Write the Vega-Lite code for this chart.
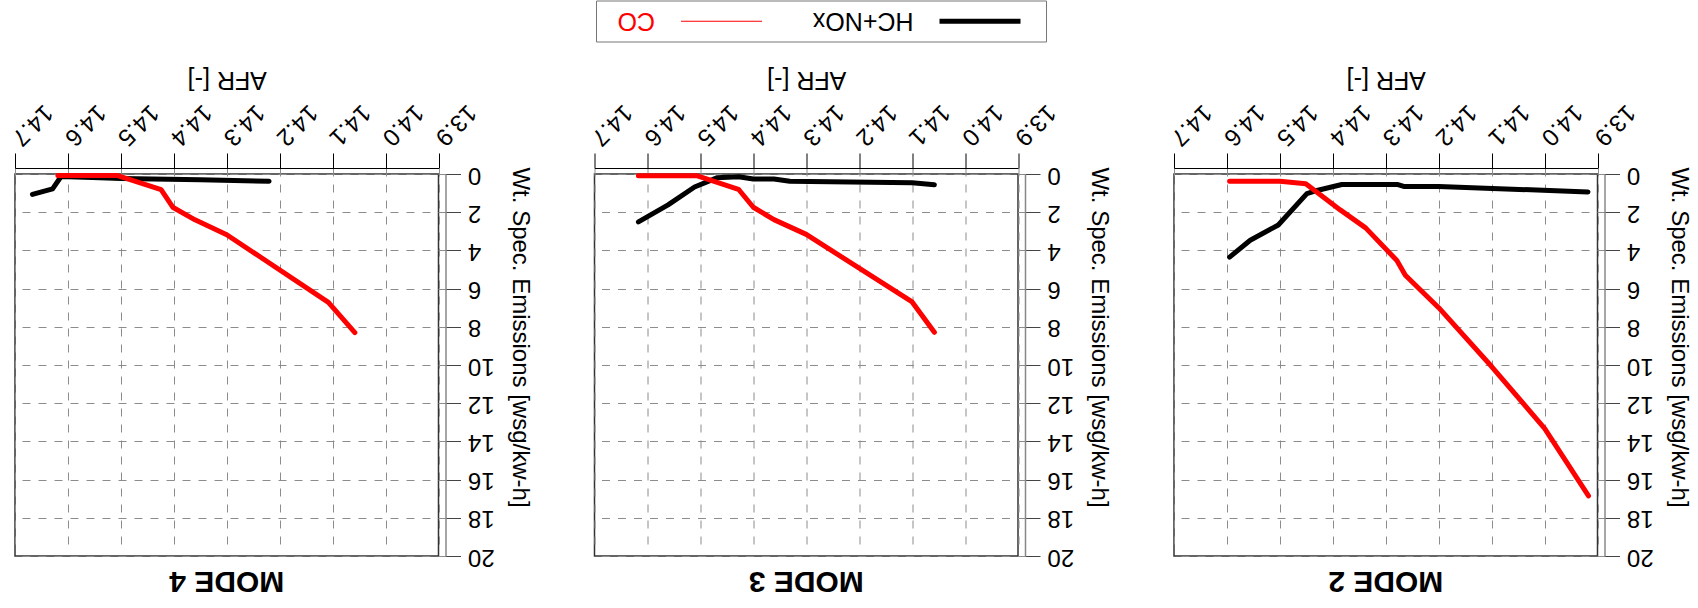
{
  "$schema": "https://vega.github.io/schema/vega-lite/v6.json",
  "background": "white",
  "padding": {"left": 5, "top": 0, "right": 0, "bottom": 0},
  "config": {
    "font": "Liberation Sans",
    "view": {"stroke": "#333333", "strokeWidth": 1.5},
    "axis": {"labelFont": "Liberation Sans", "titleFont": "Liberation Sans", "labelColor": "#000000", "titleColor": "#000000"},
    "axisX": {"orient": "top", "values": [13.9, 14.0, 14.1, 14.2, 14.3, 14.4, 14.5, 14.6, 14.7], "format": ".1f", "labelAngle": 135, "labelAlign": "right", "labelBaseline": "middle", "labelFontSize": 24, "labelPadding": 12, "labelFlush": false, "labelOverlap": false, "labelBound": false, "tickSize": 15, "tickColor": "#000000", "domainColor": "#000000", "offset": 6, "grid": true, "gridDash": [8, 8], "gridColor": "#8c8c8c", "titleAngle": 180, "titleBaseline": "top", "titleFontSize": 25, "titleFontWeight": "normal", "titlePadding": 8},
    "axisY": {"orient": "right", "values": [0, 2, 4, 6, 8, 10, 12, 14, 16, 18, 20], "labelAngle": 180, "labelAlign": "right", "labelBaseline": "middle", "labelFontSize": 24, "labelPadding": 7, "labelOverlap": false, "labelFlush": false, "tickSize": 15, "tickColor": "#444444", "domainColor": "#888888", "domainWidth": 1.5, "offset": 7, "grid": true, "gridDash": [8, 8], "gridColor": "#8c8c8c", "titleAngle": 90, "titleFontSize": 24, "titleFontWeight": "normal", "titlePadding": 13, "titleY": 163}
  },
  "data": {"values": [
    {"mode": "MODE 4", "series": "HC+NOx", "afr": 14.667, "val": 1.07},
    {"mode": "MODE 4", "series": "HC+NOx", "afr": 14.629, "val": 0.78},
    {"mode": "MODE 4", "series": "HC+NOx", "afr": 14.613, "val": 0.13},
    {"mode": "MODE 4", "series": "HC+NOx", "afr": 14.54, "val": 0.2},
    {"mode": "MODE 4", "series": "HC+NOx", "afr": 14.5, "val": 0.24},
    {"mode": "MODE 4", "series": "HC+NOx", "afr": 14.35, "val": 0.3},
    {"mode": "MODE 4", "series": "HC+NOx", "afr": 14.22, "val": 0.38},
    {"mode": "MODE 4", "series": "CO", "afr": 14.619, "val": 0.08},
    {"mode": "MODE 4", "series": "CO", "afr": 14.506, "val": 0.08},
    {"mode": "MODE 4", "series": "CO", "afr": 14.424, "val": 0.82},
    {"mode": "MODE 4", "series": "CO", "afr": 14.402, "val": 1.74},
    {"mode": "MODE 4", "series": "CO", "afr": 14.36, "val": 2.4},
    {"mode": "MODE 4", "series": "CO", "afr": 14.3, "val": 3.18},
    {"mode": "MODE 4", "series": "CO", "afr": 14.108, "val": 6.72},
    {"mode": "MODE 4", "series": "CO", "afr": 14.058, "val": 8.3},
    {"mode": "MODE 3", "series": "HC+NOx", "afr": 14.617, "val": 2.51},
    {"mode": "MODE 3", "series": "HC+NOx", "afr": 14.561, "val": 1.62},
    {"mode": "MODE 3", "series": "HC+NOx", "afr": 14.511, "val": 0.68},
    {"mode": "MODE 3", "series": "HC+NOx", "afr": 14.469, "val": 0.2},
    {"mode": "MODE 3", "series": "HC+NOx", "afr": 14.428, "val": 0.14},
    {"mode": "MODE 3", "series": "HC+NOx", "afr": 14.4, "val": 0.26},
    {"mode": "MODE 3", "series": "HC+NOx", "afr": 14.361, "val": 0.26},
    {"mode": "MODE 3", "series": "HC+NOx", "afr": 14.331, "val": 0.38},
    {"mode": "MODE 3", "series": "HC+NOx", "afr": 14.1, "val": 0.46},
    {"mode": "MODE 3", "series": "HC+NOx", "afr": 14.058, "val": 0.56},
    {"mode": "MODE 3", "series": "CO", "afr": 14.617, "val": 0.09},
    {"mode": "MODE 3", "series": "CO", "afr": 14.507, "val": 0.09},
    {"mode": "MODE 3", "series": "CO", "afr": 14.428, "val": 0.8},
    {"mode": "MODE 3", "series": "CO", "afr": 14.4, "val": 1.74},
    {"mode": "MODE 3", "series": "CO", "afr": 14.361, "val": 2.39},
    {"mode": "MODE 3", "series": "CO", "afr": 14.3, "val": 3.16},
    {"mode": "MODE 3", "series": "CO", "afr": 14.1, "val": 6.7},
    {"mode": "MODE 3", "series": "CO", "afr": 14.058, "val": 8.29},
    {"mode": "MODE 2", "series": "HC+NOx", "afr": 14.595, "val": 4.35},
    {"mode": "MODE 2", "series": "HC+NOx", "afr": 14.556, "val": 3.47},
    {"mode": "MODE 2", "series": "HC+NOx", "afr": 14.503, "val": 2.67},
    {"mode": "MODE 2", "series": "HC+NOx", "afr": 14.449, "val": 1.03},
    {"mode": "MODE 2", "series": "HC+NOx", "afr": 14.428, "val": 0.85},
    {"mode": "MODE 2", "series": "HC+NOx", "afr": 14.383, "val": 0.55},
    {"mode": "MODE 2", "series": "HC+NOx", "afr": 14.277, "val": 0.55},
    {"mode": "MODE 2", "series": "HC+NOx", "afr": 14.266, "val": 0.65},
    {"mode": "MODE 2", "series": "HC+NOx", "afr": 14.2, "val": 0.65},
    {"mode": "MODE 2", "series": "HC+NOx", "afr": 13.918, "val": 0.94},
    {"mode": "MODE 2", "series": "CO", "afr": 14.595, "val": 0.38},
    {"mode": "MODE 2", "series": "CO", "afr": 14.5, "val": 0.38},
    {"mode": "MODE 2", "series": "CO", "afr": 14.451, "val": 0.51},
    {"mode": "MODE 2", "series": "CO", "afr": 14.386, "val": 1.88},
    {"mode": "MODE 2", "series": "CO", "afr": 14.338, "val": 2.82},
    {"mode": "MODE 2", "series": "CO", "afr": 14.279, "val": 4.53},
    {"mode": "MODE 2", "series": "CO", "afr": 14.263, "val": 5.3},
    {"mode": "MODE 2", "series": "CO", "afr": 14.2, "val": 7.0},
    {"mode": "MODE 2", "series": "CO", "afr": 14.1, "val": 10.08},
    {"mode": "MODE 2", "series": "CO", "afr": 14.0, "val": 13.32},
    {"mode": "MODE 2", "series": "CO", "afr": 13.917, "val": 16.85}
  ]},
  "spacing": 155.5,
  "bounds": "flush",
  "hconcat": [
    {
      "width": 423.5, "height": 382,
      "title": {"text": "MODE 4", "orient": "bottom", "angle": 180, "fontSize": 30, "fontWeight": "bold", "font": "Liberation Sans", "baseline": "alphabetic", "offset": 4, "anchor": "middle", "color": "#000000"},
      "transform": [{"filter": "datum.mode === 'MODE 4'"}],
      "mark": {"type": "line", "strokeWidth": 5, "strokeCap": "round", "strokeJoin": "round"},
      "encoding": {
        "x": {"field": "afr", "type": "quantitative", "scale": {"domain": [13.9, 14.7], "reverse": true, "nice": false, "zero": false}, "axis": {"title": "AFR [-]"}},
        "y": {"field": "val", "type": "quantitative", "scale": {"domain": [0, 20], "reverse": true, "nice": false}, "axis": {"title": "Wt. Spec. Emissions [wsg/kw-h]"}},
        "color": {"field": "series", "type": "nominal", "scale": {"domain": ["CO", "HC+NOx"], "range": ["#ff0000", "#000000"]},
          "legend": {"orient": "none", "legendX": 581, "legendY": -173.5, "direction": "horizontal", "title": " ", "titleOrient": "right", "titlePadding": 7, "titleFontSize": 25, "titleFont": "Liberation Sans", "symbolType": "stroke", "symbolSize": 6561, "symbolStrokeWidth": 5, "symbolOffset": 105, "labelFont": "Liberation Sans", "labelFontSize": 25, "labelAlign": "left", "labelBaseline": "middle", "labelOffset": -79, "columnPadding": 48.5, "padding": 8, "strokeColor": "#777777", "fillColor": "#ffffff",
            "encode": {"labels": {"update": {"angle": {"value": 180}, "fill": {"signal": "datum.value === 'CO' ? '#ff0000' : '#000000'"}}}, "symbols": {"update": {"strokeWidth": {"signal": "datum.value === 'CO' ? 1 : 5"}}}}}}
      }
    },
    {
      "width": 423.5, "height": 382,
      "title": {"text": "MODE 3", "orient": "bottom", "angle": 180, "fontSize": 30, "fontWeight": "bold", "font": "Liberation Sans", "baseline": "alphabetic", "offset": 4, "anchor": "middle", "color": "#000000"},
      "transform": [{"filter": "datum.mode === 'MODE 3'"}],
      "mark": {"type": "line", "strokeWidth": 5, "strokeCap": "round", "strokeJoin": "round"},
      "encoding": {
        "x": {"field": "afr", "type": "quantitative", "scale": {"domain": [13.9, 14.7], "reverse": true, "nice": false, "zero": false}, "axis": {"title": "AFR [-]"}},
        "y": {"field": "val", "type": "quantitative", "scale": {"domain": [0, 20], "reverse": true, "nice": false}, "axis": {"title": "Wt. Spec. Emissions [wsg/kw-h]"}},
        "color": {"field": "series", "type": "nominal", "scale": {"domain": ["CO", "HC+NOx"], "range": ["#ff0000", "#000000"]}, "legend": null}
      }
    },
    {
      "width": 423.5, "height": 382,
      "title": {"text": "MODE 2", "orient": "bottom", "angle": 180, "fontSize": 30, "fontWeight": "bold", "font": "Liberation Sans", "baseline": "alphabetic", "offset": 4, "anchor": "middle", "color": "#000000"},
      "transform": [{"filter": "datum.mode === 'MODE 2'"}],
      "mark": {"type": "line", "strokeWidth": 5, "strokeCap": "round", "strokeJoin": "round"},
      "encoding": {
        "x": {"field": "afr", "type": "quantitative", "scale": {"domain": [13.9, 14.7], "reverse": true, "nice": false, "zero": false}, "axis": {"title": "AFR [-]"}},
        "y": {"field": "val", "type": "quantitative", "scale": {"domain": [0, 20], "reverse": true, "nice": false}, "axis": {"title": "Wt. Spec. Emissions [wsg/kw-h]"}},
        "color": {"field": "series", "type": "nominal", "scale": {"domain": ["CO", "HC+NOx"], "range": ["#ff0000", "#000000"]}, "legend": null}
      }
    }
  ]
}
